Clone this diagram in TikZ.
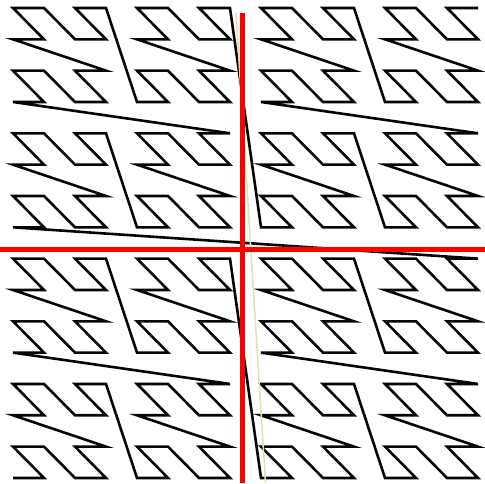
\documentclass[tikz,border=0pt]{standalone}
\usepackage{tikz}
\definecolor{curveblack}{RGB}{5,5,5}
\definecolor{axisred}{RGB}{255,0,0}
\definecolor{faintgreen}{RGB}{214,230,178}
\tikzset{
  zcurve/.style={draw=curveblack, line width=2.6pt, line join=miter, miter limit=10},
  redaxis/.style={draw=axisred, line width=5pt},
  faintline/.style={draw=faintgreen, line width=1.5pt}
}
\begin{document}
\begin{tikzpicture}[x=1pt,y=1pt]
\fill[white] (0,0) rectangle (485,483);
\useasboundingbox (0,0) rectangle (485,483);
% grid points of the mirrored Z-order curve
\foreach \n in {0,...,255}{
  \pgfmathtruncatemacro\col{mod(\n,2)+2*mod(floor(\n/4),2)+4*mod(floor(\n/16),2)+8*mod(floor(\n/64),2)}
  \pgfmathtruncatemacro\row{mod(floor(\n/2),2)+2*mod(floor(\n/8),2)+4*mod(floor(\n/32),2)+8*mod(floor(\n/128),2)}
  \pgfmathsetmacro\cx{13+31*(15-\col)}
  \pgfmathsetmacro\cy{483-(8+31.33*\row)}
  \coordinate (p\n) at (\cx,\cy);
}
\draw[zcurve] (p0) \foreach \n in {1,...,255}{ -- (p\n) };
% faint line
\coordinate (fa) at (236,470);
\coordinate (fb) at (265.5,0);
\draw[faintline] (fa) -- (fb);
% red axes
\coordinate (vtop) at (242,470);
\coordinate (vbot) at (242,0);
\coordinate (hl) at (0,233.5);
\coordinate (hr) at (485,233.5);
\draw[redaxis] (vtop) -- (vbot);
\draw[redaxis] (hl) -- (hr);
\end{tikzpicture}
\end{document}
